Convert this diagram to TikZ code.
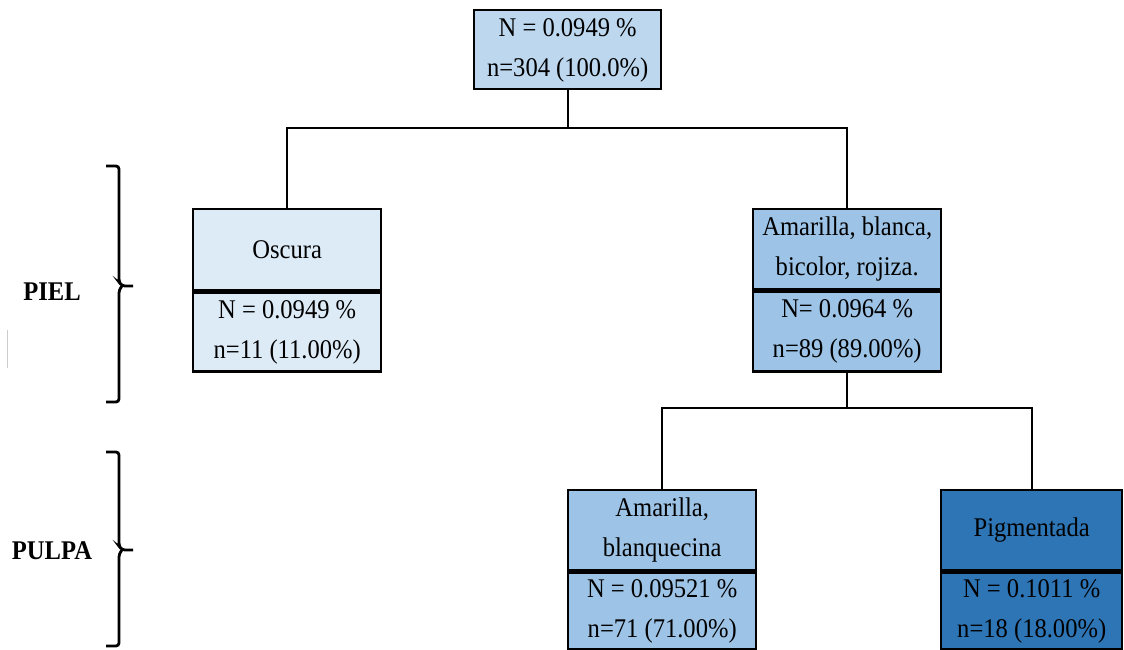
\documentclass[tikz,border=0pt]{standalone}
\usepackage{fontspec}
\setmainfont{Liberation Serif}[FakeStretch=0.91]
\definecolor{cTop}{HTML}{BDD7EE}
\definecolor{cLight}{HTML}{DDEBF7}
\definecolor{cMid}{HTML}{9DC3E6}
\definecolor{cDark}{HTML}{2E75B6}
\newcommand{\boxfont}{\fontsize{27}{40}\selectfont}
\tikzset{
  box/.style={draw=black, line width=2.4pt, align=center, inner sep=0pt, font=\boxfont, minimum width=188pt, minimum height=80pt},
  link/.style={draw=black, line width=1.6pt},
  bracepath/.style={draw=black, line width=2.8pt, rounded corners=3pt},
  lbl/.style={font=\fontsize{27}{30}\selectfont\bfseries, inner sep=0pt}
}
\begin{document}
\begin{tikzpicture}[x=1pt,y=-1pt]
\useasboundingbox (0,0) rectangle (1124,650);
% top node
\node[box, fill=cTop, minimum width=187pt, minimum height=79pt, anchor=north west, text depth=4pt] (root) at (473,9) {N = 0.0949 \%\\n=304 (100.0\%)};
% left node
\node[box, fill=cLight, minimum height=81pt, anchor=north west] (oscT) at (192,208) {Oscura};
\node[box, fill=cLight, minimum height=79pt, anchor=north] (oscB) at (oscT.south) {N = 0.0949 \%\\n=11 (11.00\%)};
% right node
\node[box, fill=cMid, minimum height=80pt, anchor=north west] (amT) at (752,208) {Amarilla, blanca,\\bicolor, rojiza.};
\node[box, fill=cMid, minimum height=80pt, anchor=north] (amB) at (amT.south) {N= 0.0964 \%\\n=89 (89.00\%)};
% bottom left
\node[box, fill=cMid, minimum height=80pt, anchor=north west] (blT) at (567,489) {Amarilla,\\blanquecina};
\node[box, fill=cMid, minimum height=77pt, anchor=north] (blB) at (blT.south) {N = 0.09521 \%\\n=71 (71.00\%)};
% bottom right
\node[box, fill=cDark, minimum width=181pt, minimum height=80pt, anchor=north west] (pgT) at (940,489) {Pigmentada};
\node[box, fill=cDark, minimum width=181pt, minimum height=77pt, anchor=north] (pgB) at (pgT.south) {N = 0.1011 \%\\n=18 (18.00\%)};
% connectors
\coordinate (j1) at (root.south |- {(0,128)});
\coordinate (j2) at (amB.south |- {(0,408)});
\draw[link] (root.south) -- (j1);
\draw[link] (oscT.north) |- (j1) -| (amT.north);
\draw[link] (amB.south) -- (j2);
\draw[link] (blT.north) |- (j2) -| (pgT.north);
% braces
\draw[bracepath] (106,166) -- (119,166) -- (119,282) -- (122,286) -- (133,286);
\draw[bracepath] (122,286) -- (119,290) -- (119,402) -- (106,402);
\draw[bracepath] (106,452) -- (119,452) -- (119,546) -- (122,550) -- (133,550);
\draw[bracepath] (122,550) -- (119,554) -- (119,646) -- (106,646);
% labels
\node[lbl] (piel) at (52,292) {PIEL};
\node[lbl] (pulpa) at (52,551) {PULPA};
% faint mark
\draw[gray!40, line width=1pt] (7,330) -- (7,368);
\end{tikzpicture}
\end{document}
